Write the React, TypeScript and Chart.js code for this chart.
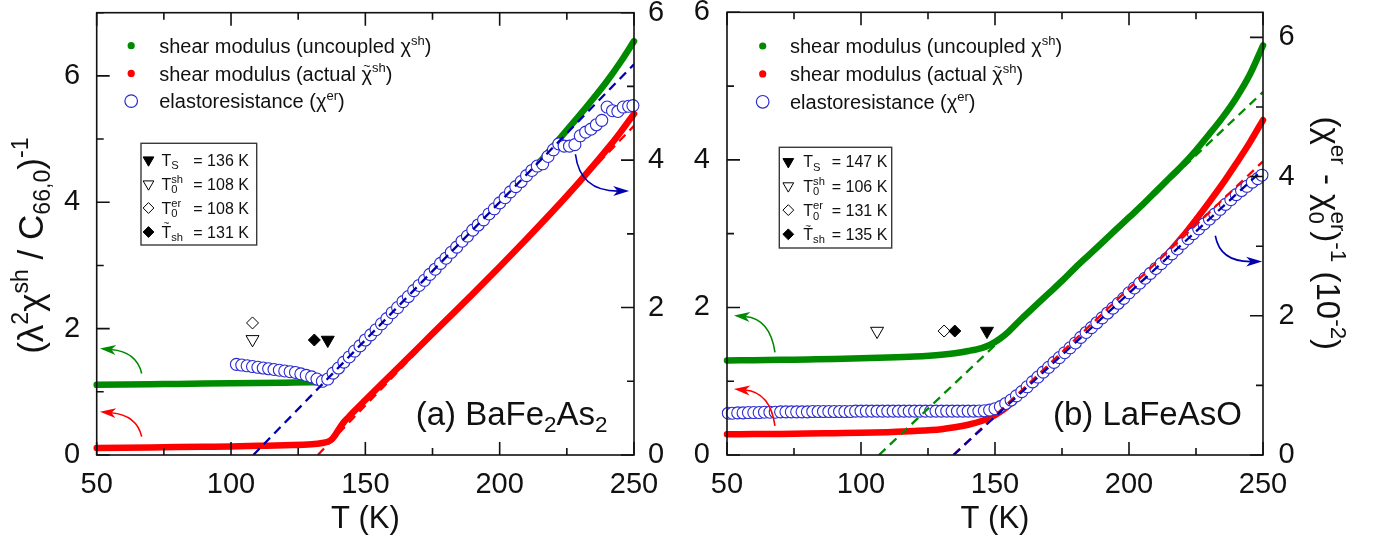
import React, { useEffect, useRef } from "react";
import { Chart, registerables } from "chart.js";

Chart.register(...registerables);

const FAM = '"Liberation Sans", Arial, Helvetica, sans-serif';
const GREEN = "#008a00";
const RED = "#ff0000";
const BLUE = "#2a2ad2";
const NAVY = "#0000b0";
const INK = "#111111";

// ---------- shared axes ----------
const xMajor = [50, 100, 150, 200, 250];
const xMinor = [75, 125, 175, 225];
const xTickLabels = ["50", "100", "150", "200", "250"];
const yMajor = [0, 2, 4, 6];
const yMinor = [1, 3, 5, 7];
const yTickLabels = ["0", "2", "4", "6"];
const xTitle = "T (K)";
const xRange = [50, 250];
const aLeftRange = [0, 7];
const aRightRange = [0, 6];
const bLeftRange = [0, 6];
const bRightRange = [0, 6.36];

// ---------- panel (a) BaFe2As2 ----------
const aGreenT = [50, 60, 70, 80, 90, 100, 110, 120, 130, 134, 136, 140, 150, 160, 170, 180, 190, 200, 210, 215, 220, 225, 230, 235, 240, 245, 250];
const aGreenV = [1.11, 1.115, 1.12, 1.125, 1.13, 1.135, 1.14, 1.145, 1.15, 1.155, 1.17, 1.35, 1.79, 2.22, 2.66, 3.09, 3.53, 3.96, 4.41, 4.64, 4.89, 5.14, 5.39, 5.65, 5.92, 6.22, 6.55];
const aRedT = [50, 60, 70, 80, 90, 100, 110, 120, 130, 134, 136, 137, 138, 139, 140, 142, 144, 146, 150, 160, 170, 180, 190, 200, 210, 220, 230, 240, 245, 250];
const aRedV = [0.11, 0.115, 0.12, 0.125, 0.13, 0.135, 0.145, 0.155, 0.17, 0.19, 0.21, 0.23, 0.27, 0.33, 0.4, 0.52, 0.61, 0.7, 0.87, 1.29, 1.71, 2.13, 2.55, 2.98, 3.42, 3.87, 4.34, 4.84, 5.11, 5.4];
const aErT = [102, 104, 106, 108, 110, 112, 114, 116, 118, 120, 122, 124, 126, 128, 130, 132, 134, 136, 138, 140, 142, 144, 146, 148, 150, 152, 154, 156, 158, 160, 162, 164, 166, 168, 170, 172, 174, 176, 178, 180, 182, 184, 186, 188, 190, 192, 194, 196, 198, 200, 202, 204, 206, 208, 210, 212, 214, 216, 218, 220, 222, 224, 226, 228, 230, 232, 234, 236, 238, 240, 242, 244, 246, 248, 249.6];
const aErV = [1.23, 1.22, 1.21, 1.2, 1.19, 1.18, 1.17, 1.16, 1.15, 1.14, 1.13, 1.12, 1.1, 1.08, 1.06, 1.03, 1.0, 1.03, 1.11, 1.18, 1.26, 1.33, 1.41, 1.48, 1.56, 1.63, 1.7, 1.78, 1.85, 1.93, 2.0, 2.08, 2.15, 2.23, 2.3, 2.37, 2.45, 2.52, 2.6, 2.67, 2.75, 2.82, 2.9, 2.97, 3.05, 3.12, 3.19, 3.27, 3.34, 3.42, 3.49, 3.57, 3.64, 3.71, 3.79, 3.86, 3.92, 3.95, 4.05, 4.14, 4.22, 4.19, 4.19, 4.21, 4.33, 4.38, 4.42, 4.48, 4.54, 4.72, 4.67, 4.66, 4.72, 4.73, 4.74];
const aFitErT = [108.3, 250];
const aFitErV = [0, 5.3];
const aFitRedT = [132.3, 250];
const aFitRedV = [0, 5.21];
// order: Ts (filled tri), T0sh (open tri), T0er (open diamond), T~sh (filled diamond)
const aMarkT = [136, 108, 108, 131];
const aMarkV = [1.82, 1.83, 2.09, 1.82];
const aArrowGreen = [66.75, 1.29, 64.9, 1.633, 51.2, 1.685];
const aArrowRed = [66.75, 0.29, 64.9, 0.633, 51.2, 0.685];
const aArrowBlue = [228.2, 4.08, 229.9, 3.58, 248.2, 3.58];

// ---------- panel (b) LaFeAsO ----------
const bGreenT = [50, 60, 70, 80, 90, 100, 110, 120, 130, 135, 140, 145, 148, 150, 152, 155, 160, 165, 170, 175, 180, 185, 190, 195, 200, 205, 210, 215, 220, 225, 230, 235, 240, 245, 250];
const bGreenV = [1.28, 1.285, 1.29, 1.295, 1.3, 1.31, 1.32, 1.335, 1.36, 1.38, 1.41, 1.45, 1.49, 1.53, 1.58, 1.67, 1.85, 2.02, 2.19, 2.36, 2.54, 2.71, 2.88, 3.05, 3.22, 3.39, 3.57, 3.75, 3.93, 4.13, 4.35, 4.58, 4.84, 5.15, 5.55];
const bRedT = [50, 60, 70, 80, 90, 100, 110, 120, 130, 135, 140, 145, 150, 153, 156, 160, 165, 170, 180, 190, 200, 210, 215, 220, 225, 230, 235, 240, 245, 250];
const bRedV = [0.28, 0.283, 0.286, 0.29, 0.295, 0.3, 0.31, 0.325, 0.35, 0.375, 0.41, 0.46, 0.54, 0.61, 0.7, 0.84, 1.02, 1.19, 1.53, 1.87, 2.21, 2.56, 2.75, 2.96, 3.19, 3.43, 3.68, 3.95, 4.23, 4.54];
const bErT = [50.5, 52, 54, 56, 58, 60, 62, 64, 66, 68, 70, 72, 74, 76, 78, 80, 82, 84, 86, 88, 90, 92, 94, 96, 98, 100, 102, 104, 106, 108, 110, 112, 114, 116, 118, 120, 122, 124, 126, 128, 130, 132, 134, 136, 138, 140, 142, 144, 146, 148, 150, 152, 154, 156, 158, 160, 162, 164, 166, 168, 170, 172, 174, 176, 178, 180, 182, 184, 186, 188, 190, 192, 194, 196, 198, 200, 202, 204, 206, 208, 210, 212, 214, 216, 218, 220, 222, 224, 226, 228, 230, 232, 234, 236, 238, 240, 242, 244, 246, 248, 249.6];
const bErV = [0.6, 0.6, 0.605, 0.605, 0.61, 0.61, 0.61, 0.615, 0.615, 0.615, 0.62, 0.62, 0.62, 0.62, 0.62, 0.62, 0.625, 0.625, 0.625, 0.625, 0.625, 0.625, 0.625, 0.625, 0.63, 0.63, 0.63, 0.63, 0.63, 0.63, 0.63, 0.63, 0.63, 0.63, 0.63, 0.63, 0.63, 0.63, 0.63, 0.63, 0.63, 0.63, 0.63, 0.63, 0.63, 0.63, 0.63, 0.632, 0.636, 0.645, 0.665, 0.695, 0.74, 0.79, 0.85, 0.91, 0.98, 1.05, 1.12, 1.19, 1.26, 1.33, 1.4, 1.47, 1.54, 1.61, 1.69, 1.76, 1.83, 1.9, 1.97, 2.04, 2.11, 2.18, 2.25, 2.33, 2.4, 2.47, 2.54, 2.61, 2.68, 2.75, 2.82, 2.89, 2.96, 3.04, 3.11, 3.18, 3.25, 3.32, 3.39, 3.46, 3.53, 3.6, 3.67, 3.74, 3.8, 3.86, 3.92, 3.97, 4.02];
const bFitGreenT = [106.7, 250];
const bFitGreenV = [0, 4.92];
const bFitErT = [134.5, 250];
const bFitErV = [0, 4.1];
const bFitRedT = [134.5, 250];
const bFitRedV = [0, 3.98];
const bMarkT = [147, 106, 131, 135];
const bMarkV = [1.68, 1.68, 1.68, 1.68];
const bArrowGreen = [67.9, 1.39, 66.1, 1.845, 52.6, 1.89];
const bArrowRed = [67.9, 0.394, 66.1, 0.85, 52.6, 0.894];
const bArrowBlue = [232.2, 3.15, 234.0, 2.775, 249.7, 2.78];

// ---------- texts ----------
type Seg = (string | number)[];
const legendRows: Seg[][] = [
  [["n", "shear modulus (uncoupled χ"], ["p", "sh"], ["n", ")"]],
  [["n", "shear modulus (actual "], ["t", "χ", 0.52], ["p", "sh"], ["n", ")"]],
  [["n", "elastoresistance (χ"], ["p", "er"], ["n", ")"]],
];
const legendSymbols = [["dot", GREEN], ["dot", RED], ["circ", BLUE]];
const boxSymbols = ["fTri", "oTri", "oDia", "fDia"];
const boxLabels: Seg[][] = [
  [["n", "T"], ["b", "S"]],
  [["n", "T"], ["pb", "sh", "0"]],
  [["n", "T"], ["pb", "er", "0"]],
  [["t", "T", 0.7], ["b", "sh"]],
];
const aLabel: Seg[] = [["n", "(a) BaFe"], ["b", "2"], ["n", "As"], ["b", "2"]];
const bLabel: Seg[] = [["n", "(b) LaFeAsO"]];
const aLeftTitle: Seg[] = [["n", "(λ"], ["p", "2"], ["n", "χ"], ["p", "sh"], ["n", " / C"], ["b", "66,0"], ["n", ")"], ["p", "-1"]];
const bRightTitle: Seg[] = [["n", "(χ"], ["p", "er"], ["n", " - χ"], ["pb", "er", "0"], ["n", ")"], ["p", "-1"], ["n", " (10"], ["p", "-2"], ["n", ")"]];

function rich(ctx: any, x: number, y: number, segs: Seg[], size: number, draw: boolean, sc = 0.65): number {
  const ss = size * sc;
  let cx = x;
  for (const s of segs) {
    const k = s[0];
    if (k === "n" || k === "t") {
      ctx.font = `${size}px ${FAM}`;
      const w = ctx.measureText(String(s[1])).width;
      if (draw) {
        ctx.fillText(String(s[1]), cx, y);
        if (k === "t") {
          ctx.font = `${size * 0.62}px ${FAM}`;
          const tw = ctx.measureText("~").width;
          ctx.fillText("~", cx + (w - tw) / 2, y - size * Number(s[2]));
        }
      }
      cx += w;
    } else {
      ctx.font = `${ss}px ${FAM}`;
      if (k === "p" || k === "b") {
        const w = ctx.measureText(String(s[1])).width;
        if (draw) ctx.fillText(String(s[1]), cx, k === "p" ? y - size * 0.42 : y + size * 0.2);
        cx += w;
      } else {
        const w1 = ctx.measureText(String(s[1])).width;
        const w2 = ctx.measureText(String(s[2])).width;
        if (draw) {
          ctx.fillText(String(s[1]), cx, y - size * 0.42);
          ctx.fillText(String(s[2]), cx, y + size * 0.24);
        }
        cx += Math.max(w1, w2);
      }
    }
  }
  return cx - x;
}

function shape(ctx: any, kind: string, x: number, y: number, r: number) {
  ctx.beginPath();
  if (kind.indexOf("Tri") >= 0) {
    ctx.moveTo(x - r * 0.866, y - r * 0.5);
    ctx.lineTo(x + r * 0.866, y - r * 0.5);
    ctx.lineTo(x, y + r);
  } else {
    ctx.moveTo(x, y - r);
    ctx.lineTo(x + r, y);
    ctx.lineTo(x, y + r);
    ctx.lineTo(x - r, y);
  }
  ctx.closePath();
  ctx.fillStyle = kind[0] === "f" ? "#000" : "#fff";
  ctx.fill();
  ctx.strokeStyle = "#000";
  ctx.lineWidth = 1;
  ctx.stroke();
}

function drawArrow(ctx: any, x0: number, y0: number, cx: number, cy: number, x1: number, y1: number, color: string) {
  const ang = Math.atan2(y1 - cy, x1 - cx);
  const L = 16, W = 5;
  const c = Math.cos(ang), s = Math.sin(ang);
  ctx.strokeStyle = color;
  ctx.lineWidth = 1.6;
  ctx.beginPath();
  ctx.moveTo(x0, y0);
  ctx.quadraticCurveTo(cx, cy, x1 - c * L * 0.7, y1 - s * L * 0.7);
  ctx.stroke();
  ctx.fillStyle = color;
  ctx.beginPath();
  ctx.moveTo(x1, y1);
  ctx.lineTo(x1 - c * L + s * W, y1 - s * L - c * W);
  ctx.lineTo(x1 - c * L * 0.72, y1 - s * L * 0.72);
  ctx.lineTo(x1 - c * L - s * W, y1 - s * L + c * W);
  ctx.closePath();
  ctx.fill();
}

const xy = (t: number[], v: number[]) => t.map((x, i) => ({ x, y: v[i] }));

function makeDecor(s: any) {
  return {
    id: "decor",
    afterDraw(chart: any) {
      const ctx = chart.ctx;
      const { left, right, top, bottom } = chart.chartArea;
      const xs = chart.scales.x, yl = chart.scales.y, yr = chart.scales.y2;
      ctx.save();
      // arrows
      for (const a of s.arrows) {
        const sc = chart.scales[a.axis];
        const p = a.p;
        drawArrow(ctx, xs.getPixelForValue(p[0]), sc.getPixelForValue(p[1]), xs.getPixelForValue(p[2]), sc.getPixelForValue(p[3]), xs.getPixelForValue(p[4]), sc.getPixelForValue(p[5]), a.color);
      }
      // frame + inward ticks
      ctx.strokeStyle = INK;
      ctx.lineWidth = 1.6;
      ctx.strokeRect(left, top, right - left, bottom - top);
      ctx.beginPath();
      const xt = (vals: number[], len: number) => vals.forEach((v) => {
        const px = xs.getPixelForValue(v);
        ctx.moveTo(px, bottom); ctx.lineTo(px, bottom - len);
        ctx.moveTo(px, top); ctx.lineTo(px, top + len);
      });
      const ylt = (vals: number[], len: number) => vals.forEach((v) => {
        if (v > yl.max) return;
        const py = yl.getPixelForValue(v);
        ctx.moveTo(left, py); ctx.lineTo(left + len, py);
      });
      const yrt = (vals: number[], len: number) => vals.forEach((v) => {
        if (v > yr.max) return;
        const py = yr.getPixelForValue(v);
        ctx.moveTo(right, py); ctx.lineTo(right - len, py);
      });
      xt(xMajor, 13); xt(xMinor, 7);
      ylt(yMajor, 13); ylt(yMinor, 7);
      yrt(yMajor, 13); yrt(yMinor, 7);
      ctx.stroke();
      // tick labels
      ctx.fillStyle = INK;
      ctx.font = `29px ${FAM}`;
      ctx.textBaseline = "middle";
      ctx.textAlign = "center";
      xMajor.forEach((v, i) => ctx.fillText(xTickLabels[i], xs.getPixelForValue(v), bottom + 30));
      ctx.textAlign = "right";
      yMajor.forEach((v, i) => ctx.fillText(yTickLabels[i], left - s.leftGap, yl.getPixelForValue(v)));
      ctx.textAlign = "left";
      yMajor.forEach((v, i) => ctx.fillText(yTickLabels[i], right + s.rightGap, yr.getPixelForValue(v)));
      ctx.font = `31px ${FAM}`;
      ctx.textAlign = "center";
      ctx.fillText(xTitle, (left + right) / 2, bottom + 64);
      // legend
      ctx.textAlign = "left";
      ctx.textBaseline = "alphabetic";
      const L = s.legend;
      legendRows.forEach((row, i) => {
        const dy = top + L.y0 + i * L.dy;
        const sym = legendSymbols[i];
        ctx.beginPath();
        if (sym[0] === "dot") {
          ctx.arc(left + L.dotDx, dy, 3.6, 0, Math.PI * 2);
          ctx.fillStyle = sym[1];
          ctx.fill();
        } else {
          ctx.arc(left + L.dotDx, dy, 6.3, 0, Math.PI * 2);
          ctx.strokeStyle = sym[1];
          ctx.lineWidth = 1.2;
          ctx.stroke();
        }
        ctx.fillStyle = INK;
        rich(ctx, left + L.textDx, dy + 7.3, row, 20, true);
      });
      // box legend
      const B = s.box;
      const bx = left + B.dx, by = top + B.dy;
      ctx.strokeStyle = "#3a3a3a";
      ctx.lineWidth = 1.4;
      ctx.strokeRect(bx, by, B.w, B.h);
      boxLabels.forEach((lab, i) => {
        const my = by + B.r0 + i * B.rdy;
        shape(ctx, boxSymbols[i], bx + B.mDx, my, boxSymbols[i].indexOf("Tri") >= 0 ? 6.2 : 5.4);
        ctx.fillStyle = INK;
        rich(ctx, bx + B.tDx, my + 5.6, lab, 16, true, 0.7);
        ctx.font = `16px ${FAM}`;
        ctx.fillText(`= ${s.boxValues[i]} K`, bx + B.eqDx, my + 5.6);
      });
      // panel label
      ctx.fillStyle = INK;
      rich(ctx, left + s.labelDx, bottom - 30, s.label, 33, true, 0.68);
      // axis titles
      if (s.leftTitle) {
        ctx.save();
        ctx.translate(left - s.leftTitleDx, top + s.titleCy);
        ctx.rotate(-Math.PI / 2);
        const w = rich(ctx, 0, 0, s.leftTitle, 35, false, 0.66);
        rich(ctx, -w / 2, 0, s.leftTitle, 35, true, 0.66);
        ctx.restore();
      }
      if (s.rightTitle) {
        ctx.save();
        ctx.translate(right + s.rightTitleDx, top + s.titleCy);
        ctx.rotate(Math.PI / 2);
        const w = rich(ctx, 0, 0, s.rightTitle, 33, false, 0.68);
        rich(ctx, -w / 2, 0, s.rightTitle, 33, true, 0.68);
        ctx.restore();
      }
      ctx.restore();
    },
  };
}

function makeConfig(s: any) {
  const line = (t: number[], v: number[], color: string, axis: string, order: number) => ({
    data: xy(t, v), borderColor: color, backgroundColor: color, borderWidth: 6.5, pointRadius: 0,
    yAxisID: axis, order, cubicInterpolationMode: "monotone", borderCapStyle: "round",
    borderJoinStyle: "round", clip: false, fill: false,
  });
  const datasets: any[] = [
    line(s.greenT, s.greenV, GREEN, "y", 6),
    line(s.redT, s.redV, RED, "y", 5),
    {
      data: xy(s.erT, s.erV), yAxisID: "y2", order: 4, showLine: false, pointRadius: 6,
      pointBorderWidth: 1.1, pointBorderColor: BLUE, pointBackgroundColor: "#ffffff", clip: false,
    },
    {
      data: xy(s.markT, s.markV), yAxisID: "y", order: 3, showLine: false,
      pointStyle: ["triangle", "triangle", "rectRot", "rectRot"], rotation: [180, 180, 0, 0],
      pointRadius: [7.5, 7.5, 6, 6], pointBackgroundColor: ["#000", "#fff", "#fff", "#000"],
      pointBorderColor: "#000", pointBorderWidth: 1, clip: false,
    },
  ];
  s.fits.forEach((f: any, i: number) => datasets.push({
    data: xy(f.t, f.v), yAxisID: f.axis, order: 2 - i * 0.1, borderColor: f.color, borderWidth: 2.3,
    borderDash: [9, 6], pointRadius: 0, fill: false, tension: 0,
  }));
  return {
    type: "line",
    data: { datasets },
    options: {
      animation: false, responsive: true, maintainAspectRatio: false, events: [],
      layout: { padding: s.padding },
      plugins: { legend: { display: false }, tooltip: { enabled: false } },
      scales: {
        x: { type: "linear", min: xRange[0], max: xRange[1], display: false },
        y: { type: "linear", min: s.leftRange[0], max: s.leftRange[1], display: false },
        y2: { type: "linear", position: "right", min: s.rightRange[0], max: s.rightRange[1], display: false },
      },
    },
    plugins: [makeDecor(s)],
  };
}

const specA = {
  greenT: aGreenT, greenV: aGreenV, redT: aRedT, redV: aRedV, erT: aErT, erV: aErV,
  fits: [
    { t: aFitRedT, v: aFitRedV, axis: "y", color: RED },
    { t: aFitErT, v: aFitErV, axis: "y2", color: NAVY },
  ],
  markT: aMarkT, markV: aMarkV, boxValues: aMarkT,
  leftRange: aLeftRange, rightRange: aRightRange,
  padding: { left: 96.7, right: 56, top: 12.7, bottom: 95 },
  leftGap: 16.5, rightGap: 14,
  legend: { dotDx: 34.5, textDx: 62.5, y0: 33, dy: 27.7 },
  box: { dx: 44.3, dy: 130.6, w: 115.7, h: 101.7, r0: 16.7, rdy: 24, mDx: 7.5, tDx: 20.5, eqDx: 52.3 },
  label: aLabel, labelDx: 319,
  leftTitle: aLeftTitle, leftTitleDx: 54, rightTitle: null, titleCy: 233,
  arrows: [
    { p: aArrowGreen, axis: "y", color: GREEN },
    { p: aArrowRed, axis: "y", color: RED },
    { p: aArrowBlue, axis: "y2", color: NAVY },
  ],
};

const specB = {
  greenT: bGreenT, greenV: bGreenV, redT: bRedT, redV: bRedV, erT: bErT, erV: bErV,
  fits: [
    { t: bFitGreenT, v: bFitGreenV, axis: "y", color: GREEN },
    { t: bFitRedT, v: bFitRedV, axis: "y", color: RED },
    { t: bFitErT, v: bFitErV, axis: "y2", color: NAVY },
  ],
  markT: bMarkT, markV: bMarkV, boxValues: bMarkT,
  leftRange: bLeftRange, rightRange: bRightRange,
  padding: { left: 37, right: 116, top: 12.3, bottom: 95 },
  leftGap: 17, rightGap: 15.5,
  legend: { dotDx: 35.7, textDx: 63, y0: 33.7, dy: 27.9 },
  box: { dx: 52.3, dy: 135, w: 112.4, h: 100.7, r0: 14.4, rdy: 24.2, mDx: 9, tDx: 24, eqDx: 52.4 },
  label: bLabel, labelDx: 326,
  leftTitle: null, rightTitle: bRightTitle, rightTitleDx: 54, titleCy: 221,
  arrows: [
    { p: bArrowGreen, axis: "y", color: GREEN },
    { p: bArrowRed, axis: "y", color: RED },
    { p: bArrowBlue, axis: "y2", color: NAVY },
  ],
};

function Panel({ spec, left, width }: any) {
  const ref = useRef<HTMLCanvasElement>(null);
  useEffect(() => {
    const chart = new Chart(ref.current as any, makeConfig(spec) as any);
    return () => chart.destroy();
  }, []);
  return (
    <div style={{ position: "absolute", left, top: 0, width, height: 550 }}>
      <canvas ref={ref} />
    </div>
  );
}

export default function App() {
  return (
    <div style={{ position: "absolute", left: 0, top: 0, width: 1379, height: 550, background: "#fff" }}>
      <Panel spec={specA} left={0} width={690} />
      <Panel spec={specB} left={690} width={689} />
    </div>
  );
}
